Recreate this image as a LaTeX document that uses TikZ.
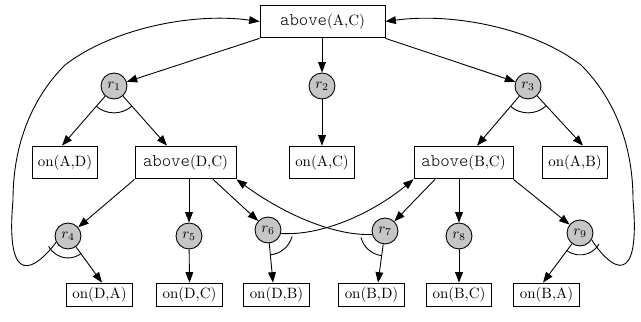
\documentclass[tikz,border=0pt]{standalone}
\usetikzlibrary{arrows.meta,calc}
\newcommand{\abv}{{\fontsize{12}{12}\ttfamily\fontseries{l}\selectfont above}}
\begin{document}
\begin{tikzpicture}[x=0.67pt,y=0.67pt,line width=0.6pt,
  box/.style={draw,inner sep=0pt,minimum height=22pt,font=\fontsize{10}{12}\selectfont},
  onbox/.style={box,minimum width=44pt},
  lowbox/.style={box,minimum height=16pt,minimum width=44pt},
  rulenode/.style={circle,draw,fill=gray!45,inner sep=0pt,minimum size=17.4pt},
  arr/.style={-{Triangle[length=7pt,width=5.2pt]}}]
\useasboundingbox (0,0) rectangle (641,-322);
% nodes
\node[box,minimum width=83.7pt] (top) at (322.5,-21.5) {\abv(A,C)};
\node[rulenode] (r1) at (114,-86) {$r_1$};
\node[rulenode] (r2) at (322,-86) {$r_2$};
\node[rulenode] (r3) at (528,-86) {$r_3$};
\node[onbox] (ad) at (65,-162.5) {on(A,D)};
\node[box,minimum width=67.7pt] (dc) at (185.5,-162.5) {\abv(D,C)};
\node[onbox] (ac) at (322,-162.5) {on(A,C)};
\node[box,minimum width=66.3pt] (bc) at (463.5,-162.5) {\abv(B,C)};
\node[onbox] (ab) at (575,-162.5) {on(A,B)};
\node[rulenode] (r4) at (68,-236) {$r_4$};
\node[rulenode] (r5) at (189,-236) {$r_5$};
\node[rulenode] (r6) at (268,-230) {$r_6$};
\node[rulenode] (r7) at (385,-231) {$r_7$};
\node[rulenode] (r8) at (459,-236) {$r_8$};
\node[rulenode] (r9) at (580,-233) {$r_9$};
\node[lowbox] (da) at (99.5,-295) {on(D,A)};
\node[lowbox] (dcb) at (189.5,-295) {on(D,C)};
\node[lowbox] (db) at (276.5,-295) {on(D,B)};
\node[lowbox] (bd) at (371.5,-295) {on(B,D)};
\node[lowbox] (bcb) at (459,-295) {on(B,C)};
\node[lowbox] (ba) at (546.5,-295) {on(B,A)};
% edges from top
\draw[arr] (top.south west) -- (r1);
\draw[arr] (top.south -| r2) -- (r2);
\draw[arr] (top.south east) -- (r3);
\draw[arr] (r1) -- ($(ad.north)+(-3,0)$);
\draw[arr] (r1) -- ($(dc.north)+(-18.5,0)$);
\draw[arr] (r2) -- (ac.north);
\draw[arr] (r3) -- ($(bc.north)+(13.5,0)$);
\draw[arr] (r3) -- ($(ab.north)+(8,0)$);
% edges from above(D,C)
\draw[arr] (dc.south west) -- (r4);
\draw[arr] (dc.south -| r5) -- (r5);
\draw[arr] ($(dc.south)+(27.5,0)$) -- (r6);
\draw[arr] (r4) -- ($(da.north)+(2.5,0)$);
\draw[arr] (r5) -- (dcb.north);
\draw[arr] (r6) -- ($(db.north)+(-3.5,0)$);
% edges from above(B,C)
\draw[arr] ($(bc.south)+(-28.5,0)$) -- (r7);
\draw[arr] (bc.south -| r8) -- (r8);
\draw[arr] (bc.south east) -- (r9);
\draw[arr] (r7) -- ($(bd.north)+(6.5,0)$);
\draw[arr] (r8) -- (bcb.north);
\draw[arr] (r9) -- ($(ba.north)+(-3.5,0)$);
% crossing curves
\draw[arr] (r6.-15) .. controls (320,-236) and (370,-215) .. (bc.south west);
\draw[arr] (r7.195) .. controls (335,-236) and (285,-215) .. (dc.south east);
% loops
\draw[arr] (r4.208) .. controls (35,-270) and (5,-290) .. (13,-200)
  .. controls (13,-140) and (35,-95) .. (65,-65)
  .. controls (110,-30) and (190,-12) .. (top.west);
\draw[arr] (r9.-30) .. controls (611,-270) and (641,-290) .. (633,-200)
  .. controls (633,-140) and (611,-95) .. (581,-65)
  .. controls (536,-30) and (456,-12) .. (top.east);
% and-arcs
\draw ($(r1)+(229:18pt)$) arc[start angle=229,end angle=311.5,radius=18pt];
\draw ($(r3)+(229.6:18pt)$) arc[start angle=229.6,end angle=312.5,radius=18pt];
\draw ($(r4)+(208:14.7pt)$) arc[start angle=208,end angle=306,radius=14.7pt];
\draw ($(r6)+(275.4:16.7pt)$) arc[start angle=275.4,end angle=345,radius=16.7pt];
\draw ($(r7)+(195:16.7pt)$) arc[start angle=195,end angle=262.3,radius=16.7pt];
\draw ($(r9)+(233.5:14.7pt)$) arc[start angle=233.5,end angle=330,radius=14.7pt];
\end{tikzpicture}
\end{document}
